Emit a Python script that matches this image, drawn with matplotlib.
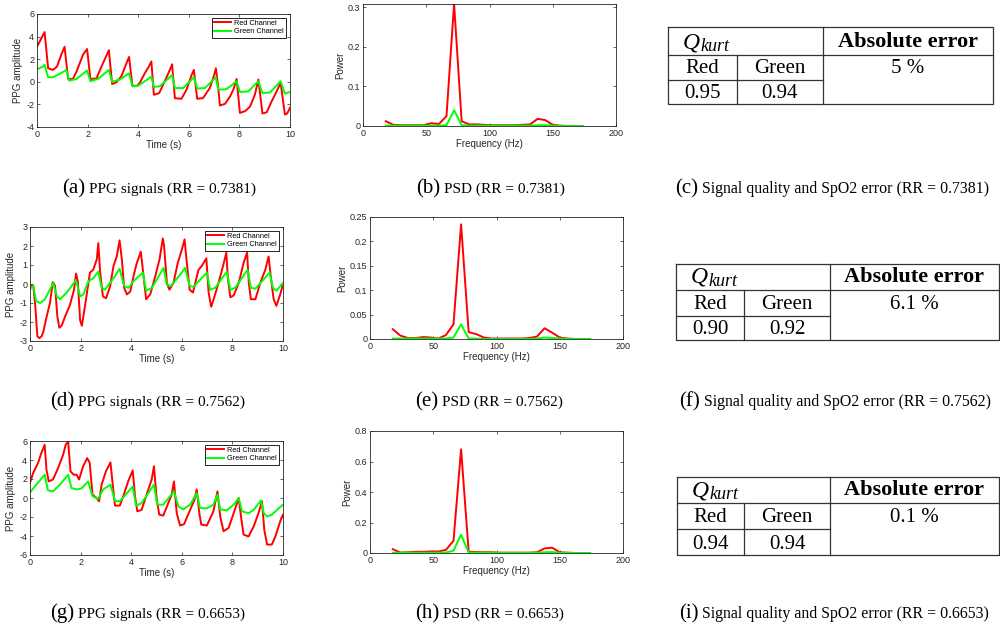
import numpy as np
import matplotlib
matplotlib.use("Agg")
import matplotlib.pyplot as plt


# ---- values ----
FREQ = [18, 24, 30, 36, 42, 48, 54, 60, 66, 72, 78, 84, 90, 96, 102, 108,
        114, 120, 126, 132, 138, 144, 150, 156, 162, 168, 174]

PSD_RED_B = [0.012, 0.003, 0.002, 0.002, 0.002, 0.002, 0.007, 0.005, 0.025, 0.308,
             0.012, 0.004, 0.004, 0.003, 0.002, 0.002, 0.002, 0.002, 0.003, 0.004,
             0.018, 0.015, 0.003, 0.001, 0.0, 0.0, 0.0]
PSD_GREEN_B = [0.001, 0.001, 0.001, 0.001, 0.001, 0.001, 0.001, 0.001, 0.002, 0.040,
               0.002, 0.001, 0.001, 0.001, 0.001, 0.001, 0.001, 0.001, 0.001, 0.001,
               0.002, 0.002, 0.001, 0.0, 0.0, 0.0, 0.0]
PSD_RED_E = [0.020, 0.007, 0.002, 0.002, 0.004, 0.003, 0.001, 0.008, 0.030, 0.235,
             0.014, 0.010, 0.003, 0.001, 0.001, 0.001, 0.001, 0.001, 0.002, 0.005,
             0.022, 0.013, 0.003, 0.001, 0.0, 0.0, 0.0]
PSD_GREEN_E = [0.001, 0.001, 0.001, 0.001, 0.001, 0.001, 0.001, 0.001, 0.003, 0.030,
               0.001, 0.001, 0.0, 0.0, 0.0, 0.0, 0.0, 0.0, 0.0, 0.001,
               0.003, 0.002, 0.001, 0.0, 0.0, 0.0, 0.0]
PSD_RED_H = [0.025, 0.003, 0.005, 0.008, 0.008, 0.010, 0.010, 0.020, 0.080, 0.680,
             0.008, 0.006, 0.005, 0.005, 0.002, 0.002, 0.002, 0.002, 0.002, 0.005,
             0.030, 0.035, 0.005, 0.002, 0.0, 0.0, 0.0]
PSD_GREEN_H = [0.002, 0.002, 0.002, 0.002, 0.002, 0.002, 0.002, 0.003, 0.015, 0.120,
               0.003, 0.002, 0.002, 0.002, 0.001, 0.001, 0.001, 0.001, 0.001, 0.002,
               0.005, 0.006, 0.002, 0.001, 0.0, 0.0, 0.0]

# PPG traces (vertices picked off the plots)
T_RED_A = [0, 0.30, 0.44, 0.63, 0.79, 0.96, 1.09, 1.23, 1.42, 1.56, 1.82, 1.98, 2.11,
           2.35, 2.55, 2.72, 2.84, 2.97, 3.14, 3.34, 3.51, 3.64, 3.77, 3.96, 4.06, 4.26,
           4.42, 4.52, 4.62, 4.83, 5.05, 5.25, 5.34, 5.45, 5.71, 5.91, 6.11, 6.2, 6.33,
           6.56, 6.83, 6.99, 7.07, 7.16, 7.23, 7.43, 7.63, 7.76, 7.89, 8.02, 8.22, 8.42,
           8.61, 8.75, 8.91, 9.08, 9.27, 9.47, 9.63, 9.8, 9.89, 10]
RED_A = [3.1, 4.4, 1.2, 1.05, 1.35, 2.4, 3.1, 0.25, 0.25, 0.9, 2.4, 2.9, 0.25,
         0.3, 1.35, 2.2, 2.8, -0.2, -0.05, 0.5, 1.5, 2.2, -0.35, -0.35, -0.1, 0.75,
         1.35, 1.8, -1.15, -1.0, 0.05, 1.05, 1.55, -1.45, -1.5, -0.7, 0.6, 1.05, -1.5,
         -1.45, -0.55, 0.5, 1.2, -0.45, -2.1, -1.95, -1.3, -0.7, 0.25, -2.75, -2.6, -2.2,
         -1.15, 0.2, -2.8, -2.7, -1.75, -0.85, -0.1, -2.9, -2.8, -2.3]
T_GREEN_A = [0, 0.24, 0.3, 0.44, 0.63, 0.9, 1.16, 1.27, 1.56, 1.98, 2.11, 2.41, 2.84,
             2.97, 3.28, 3.64, 3.77, 4.0, 4.52, 4.62, 4.85, 5.34, 5.45, 5.78, 6.2, 6.33,
             6.64, 7.07, 7.16, 7.49, 7.89, 8.02, 8.35, 8.75, 8.91, 9.21, 9.63, 9.8, 10]
GREEN_A = [1.1, 1.35, 1.5, 0.4, 0.4, 0.7, 1.05, 0.1, 0.25, 1.0, 0.05, 0.25, 1.05,
           0.0, 0.2, 0.75, -0.4, -0.35, 0.45, -0.45, -0.4, 0.6, -0.55, -0.55, 0.4, -0.6,
           -0.55, 0.4, -0.7, -0.65, 0.05, -0.9, -0.85, 0.05, -1.0, -0.95, 0.05, -1.05, -0.9]

T_RED_D = [0, 0.07, 0.13, 0.2, 0.29, 0.37, 0.46, 0.53, 0.66, 0.79, 0.9, 0.99, 1.08,
           1.16, 1.25, 1.39, 1.58, 1.74, 1.82, 1.89, 1.98, 2.05, 2.18, 2.37, 2.5, 2.64,
           2.7, 2.77, 2.88, 3.01, 3.17, 3.3, 3.43, 3.54, 3.63, 3.72, 3.83, 3.96, 4.09,
           4.22, 4.38, 4.49, 4.59, 4.75, 4.95, 5.12, 5.25, 5.3, 5.41, 5.51, 5.67, 5.84,
           6.0, 6.11, 6.2, 6.31, 6.44, 6.66, 6.79, 6.97, 7.06, 7.16, 7.26, 7.45, 7.63,
           7.76, 7.82, 7.92, 8.05, 8.25, 8.44, 8.58, 8.65, 8.73, 8.91, 9.1, 9.3, 9.43,
           9.53, 9.63, 9.74, 9.89, 10]
RED_D = [-0.3, -0.05, -0.1, -1.0, -2.75, -2.85, -2.75, -2.5, -1.7, -1.0, 0.1, -0.1, -1.7,
         -2.3, -2.2, -1.7, -1.1, -0.3, 0.55, 0.15, -1.9, -2.2, -1.1, 0.6, 0.75, 1.3,
         2.15, 0.65, -0.65, -0.75, -0.1, 0.95, 1.45, 2.3, 1.3, -0.2, -0.55, -0.4, 0.4,
         1.1, 1.7, 0.4, -0.8, -0.55, 0.4, 1.3, 2.4, 2.0, 0.05, -0.3, 0.05, 1.1,
         1.8, 2.35, 1.1, -0.3, -0.45, 0.75, 0.95, 1.35, -0.45, -1.2, -0.8, 0.05, 0.95,
         1.65, 0.3, -0.7, -0.6, 0.05, 1.1, 1.65, 0.05, -0.8, -0.8, 0.05, 0.75, 1.45,
         0.25, -0.8, -1.15, -0.55, 0.0]
T_GREEN_D = [0, 0.13, 0.24, 0.4, 0.59, 0.92, 1.06, 1.19, 1.45, 1.82, 1.98, 2.11, 2.31,
             2.5, 2.7, 2.83, 2.96, 3.3, 3.54, 3.72, 3.89, 4.09, 4.46, 4.59, 4.82, 5.28,
             5.41, 5.57, 5.94, 6.13, 6.31, 6.46, 6.99, 7.12, 7.32, 7.78, 7.92, 8.11, 8.6,
             8.73, 8.91, 9.47, 9.6, 9.74, 10]
GREEN_D = [-0.2, -0.1, -0.9, -1.0, -0.8, 0.05, -0.65, -0.8, -0.45, 0.2, -0.65, -0.55, 0.15,
           0.3, 0.65, -0.2, -0.3, 0.3, 0.8, -0.1, -0.2, 0.15, 0.6, -0.35, -0.2, 0.85,
           -0.05, -0.1, 0.5, 0.85, -0.1, -0.15, 0.6, -0.3, -0.2, 0.65, -0.3, -0.2, 0.75,
           -0.2, -0.25, 0.6, -0.2, -0.35, 0.05]

T_RED_G = [0, 0.12, 0.32, 0.45, 0.58, 0.65, 0.74, 0.91, 1.11, 1.31, 1.41, 1.51, 1.6,
           1.73, 1.84, 1.94, 2.1, 2.26, 2.36, 2.47, 2.63, 2.73, 2.83, 3.0, 3.18, 3.29,
           3.36, 3.55, 3.71, 3.88, 4.06, 4.15, 4.24, 4.41, 4.61, 4.81, 4.9, 5.01, 5.11,
           5.27, 5.47, 5.6, 5.69, 5.8, 5.93, 6.09, 6.33, 6.5, 6.59, 6.7, 6.77, 6.99,
           7.25, 7.41, 7.52, 7.65, 7.85, 8.05, 8.25, 8.34, 8.44, 8.64, 8.84, 9.03, 9.17,
           9.26, 9.37, 9.56, 9.7, 9.89, 10]
RED_G = [1.6, 2.6, 3.7, 4.75, 5.6, 3.0, 1.75, 1.95, 3.15, 4.55, 5.6, 5.95, 2.8,
         2.45, 2.45, 1.95, 3.35, 4.2, 3.7, 0.35, 0.0, -0.35, 1.4, 2.8, 3.75, 0.9,
         -0.8, -0.8, 0.35, 1.75, 2.9, 0.2, -1.4, -1.25, 0.35, 1.95, 3.35, -0.2, -1.75,
         -1.85, -0.5, 0.35, 1.75, -1.6, -2.9, -2.75, -1.25, -0.2, 0.9, -1.75, -2.8, -2.9,
         -1.4, 0.7, -1.95, -3.5, -3.15, -1.6, 0.0, -1.95, -3.85, -4.05, -3.0, -1.6, -0.35,
         -3.35, -4.9, -4.9, -4.05, -2.45, -1.75]
T_GREEN_G = [0, 0.25, 0.58, 0.71, 0.91, 1.18, 1.51, 1.64, 1.84, 2.03, 2.3, 2.47, 2.69,
             2.89, 3.18, 3.36, 3.55, 4.06, 4.19, 4.41, 4.9, 5.03, 5.27, 5.69, 5.87, 6.06,
             6.33, 6.59, 6.72, 6.99, 7.25, 7.41, 7.52, 7.78, 8.05, 8.25, 8.38, 8.64, 8.84,
             9.13, 9.24, 9.37, 9.56, 9.76, 10]
GREEN_G = [0.6, 1.4, 2.45, 0.8, 0.7, 1.4, 2.45, 1.05, 0.9, 1.0, 1.75, 0.2, -0.1,
           0.9, 1.4, -0.3, -0.35, 1.2, -0.8, -0.55, 1.4, -0.7, -0.7, 0.7, -0.9, -1.2,
           -0.7, 0.5, -1.05, -1.1, -0.7, 0.35, -1.2, -1.3, -0.7, 0.0, -1.4, -1.6, -1.25,
           -0.25, -1.6, -1.95, -1.75, -1.25, -0.7]

RR = ["0.7381", "0.7562", "0.6653"]
Q_RED = ["0.95", "0.90", "0.94"]
Q_GREEN = ["0.94", "0.92", "0.94"]
ABS_ERR = ["5 %", "6.1 %", "0.1 %"]

PPG_YTICKS = [[-4, -2, 0, 2, 4, 6], [-3, -2, -1, 0, 1, 2, 3], [-6, -4, -2, 0, 2, 4, 6]]
PSD_YTICKS = [[0, 0.1, 0.2, 0.3], [0, 0.05, 0.1, 0.15, 0.2, 0.25], [0, 0.2, 0.4, 0.6, 0.8]]
PSD_YTOP = [0.308, 0.25, 0.8]

RED = "#ff0000"
GREEN = "#00ff00"
INK = "#262626"
SERIF = "Liberation Serif"
W, H = 1000, 632


def style_axes(ax):
    for s in ax.spines.values():
        s.set_color(INK)
        s.set_linewidth(0.6)
    ax.tick_params(direction="in", top=True, right=True, length=2.5, width=0.5,
                   labelsize=6.5, colors=INK, pad=2)


def ppg_panel(ax, t_red, red, t_green, green, yticks):
    ax.plot(t_red, red, color=RED, lw=1.4, label="Red Channel")
    ax.plot(t_green, green, color=GREEN, lw=1.4, label="Green Channel")
    ax.set_xlim(0, 10)
    ax.set_ylim(yticks[0], yticks[-1])
    ax.set_xticks([0, 2, 4, 6, 8, 10])
    ax.set_yticks(yticks)
    ax.set_xlabel("Time (s)", fontsize=7, color=INK, labelpad=1)
    ax.set_ylabel("PPG amplitude", fontsize=7, color=INK, labelpad=2)
    style_axes(ax)
    leg = ax.legend(loc="upper right", fontsize=5.3, fancybox=False, edgecolor="black",
                    framealpha=1, handlelength=2.3, labelspacing=0.15, borderpad=0.3,
                    borderaxespad=0.5, handletextpad=0.5)
    leg.get_frame().set_linewidth(0.6)


def psd_panel(ax, red, green, yticks, ytop):
    ax.plot(FREQ, red, color=RED, lw=1.4)
    ax.plot(FREQ, green, color=GREEN, lw=1.4)
    ax.set_xlim(0, 200)
    ax.set_ylim(0, ytop)
    ax.set_xticks([0, 50, 100, 150, 200])
    ax.set_yticks(yticks)
    ax.set_yticklabels([f"{v:g}" for v in yticks])
    ax.set_xlabel("Frequency (Hz)", fontsize=7, color=INK, labelpad=1)
    ax.set_ylabel("Power", fontsize=7, color=INK, labelpad=2)
    style_axes(ax)


def table(ov, left, right, c1, c2, rows, q_red, q_green, err):
    kw = dict(color="#333333", lw=0.9, clip_on=False)
    top, r1, r2, bot = rows
    ov.plot([left, right, right, left, left], [top, top, bot, bot, top], **kw)
    ov.plot([left, right], [r1, r1], **kw)
    ov.plot([left, c2], [r2, r2], **kw)
    ov.plot([c1, c1], [r1, bot], **kw)
    ov.plot([c2, c2], [top, bot], **kw)

    txt = dict(family=SERIF, color="black", ha="center", va="baseline", fontsize=15)
    # header row: Q_kurt (italic, subscript set a little lower) and the bold title
    ov.text(left + 15, r1 - 7, "Q", family=SERIF, style="italic", fontsize=17,
            va="baseline", ha="left")
    ov.text(left + 32, r1 - 4, "kurt", family=SERIF, style="italic", fontsize=13,
            va="baseline", ha="left")
    ov.text((c2 + right) / 2, r1 - 8, "Absolute error", fontweight="bold",
            **{**txt, "fontsize": 16})
    ov.text((left + c1) / 2, r2 - 7, "Red", **txt)
    ov.text((c1 + c2) / 2, r2 - 7, "Green", **txt)
    ov.text((c2 + right) / 2, r2 - 7, err, **txt)
    ov.text((left + c1) / 2, bot - 6, q_red, **txt)
    ov.text((c1 + c2) / 2, bot - 6, q_green, **txt)


def caption(ov, renderer, x, y, tag, text, size):
    lab = ov.text(x, y, tag, fontsize=15, va="baseline", family=SERIF)
    bb = lab.get_window_extent(renderer).transformed(ov.transData.inverted())
    ov.text(max(bb.x0, bb.x1) + 4, y, text, fontsize=size, va="baseline", family=SERIF)


def main():
    plt.rcParams["font.family"] = ["Liberation Sans", "DejaVu Sans"]
    plt.rcParams["axes.unicode_minus"] = False

    fig = plt.figure(figsize=(W / 100, H / 100), dpi=100)

    def px_axes(l, t, r, b):
        return fig.add_axes([l / W, 1 - b / H, (r - l) / W, (b - t) / H])

    ppg_boxes = [(37, 14, 290, 127), (30, 227, 283, 341), (30, 441, 283, 555)]
    psd_boxes = [(363, 4, 616, 126), (370, 217, 623, 339), (370, 431, 623, 553)]
    ppg_data = [(T_RED_A, RED_A, T_GREEN_A, GREEN_A),
                (T_RED_D, RED_D, T_GREEN_D, GREEN_D),
                (T_RED_G, RED_G, T_GREEN_G, GREEN_G)]
    psd_data = [(PSD_RED_B, PSD_GREEN_B), (PSD_RED_E, PSD_GREEN_E), (PSD_RED_H, PSD_GREEN_H)]

    for i in range(3):
        ppg_panel(px_axes(*ppg_boxes[i]), *ppg_data[i], PPG_YTICKS[i])
        psd_panel(px_axes(*psd_boxes[i]), *psd_data[i], PSD_YTICKS[i], PSD_YTOP[i])

    # overlay in pixel coordinates for the tables and the captions
    ov = fig.add_axes([0, 0, 1, 1])
    ov.set_xlim(0, W)
    ov.set_ylim(H, 0)
    ov.axis("off")

    tables = [(668, 993, 737, 823, (27, 55, 80, 104)),
              (676, 999, 744, 830, (264, 290, 316, 340)),
              (677, 999, 744, 830, (477, 503, 529, 555))]
    for i, (l, r, c1, c2, rows) in enumerate(tables):
        table(ov, l, r, c1, c2, rows, Q_RED[i], Q_GREEN[i], ABS_ERR[i])

    renderer = fig.canvas.get_renderer()
    cap_y = [193, 406, 618]
    cap_x = [(62, 416, 675), (50, 415, 679), (50, 415, 679)]
    tags = [("(a)", "(b)", "(c)"), ("(d)", "(e)", "(f)"), ("(g)", "(h)", "(i)")]
    sizes = [11, 11, 11.4]
    for i in range(3):
        rr = f"(RR = {RR[i]})"
        texts = [f"PPG signals {rr}", f"PSD {rr}", f"Signal quality and SpO2 error {rr}"]
        for j in range(3):
            caption(ov, renderer, cap_x[i][j], cap_y[i], tags[i][j], texts[j], sizes[j])

    fig.savefig("out.png", dpi=100)
    plt.close(fig)


if __name__ == "__main__":
    main()
